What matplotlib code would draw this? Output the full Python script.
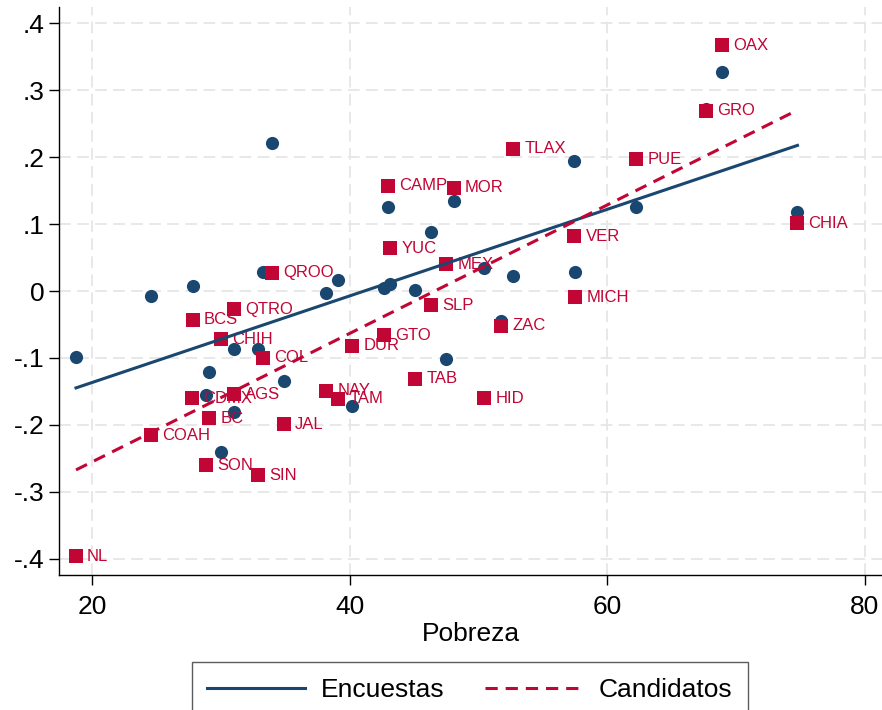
import numpy as np
import matplotlib
matplotlib.use("Agg")
import matplotlib.pyplot as plt
from matplotlib.ticker import FuncFormatter

plt.rcParams['font.family'] = ['Liberation Sans', 'DejaVu Sans']

# state, pobreza, candidatos, encuestas
estados = ["NL", "COAH", "CDMX", "BCS", "SON", "BC", "CHIH", "QTRO", "AGS", "SIN",
           "COL", "QROO", "JAL", "NAY", "TAM", "DUR", "GTO", "CAMP", "YUC", "TAB",
           "SLP", "MEX", "MOR", "HID", "ZAC", "TLAX", "VER", "MICH", "PUE", "GRO",
           "OAX", "CHIA"]
pobreza = [18.76, 24.58, 27.77, 27.84, 28.85, 29.09, 30.02, 31.0, 31.0, 32.9,
           33.28, 33.98, 34.91, 38.17, 39.1, 40.19, 42.68, 43.0, 43.15, 45.09,
           46.33, 47.5, 48.1, 50.45, 51.77, 52.7, 57.44, 57.5, 62.25, 67.69,
           68.93, 74.76]
candidatos = [-0.396, -0.215, -0.160, -0.043, -0.260, -0.190, -0.072, -0.027, -0.154, -0.275,
              -0.100, 0.027, -0.199, -0.149, -0.161, -0.082, -0.066, 0.157, 0.064, -0.131,
              -0.021, 0.040, 0.154, -0.160, -0.052, 0.212, 0.082, -0.009, 0.197, 0.269,
              0.367, 0.101]
encuestas = [-0.099, -0.007, -0.043, 0.007, -0.155, -0.121, -0.240, -0.087, -0.181, -0.086,
             0.029, 0.221, -0.134, -0.003, 0.017, -0.172, 0.004, 0.126, 0.011, 0.001,
             0.088, -0.101, 0.135, 0.034, -0.045, 0.023, 0.194, 0.028, 0.126, 0.272,
             0.327, 0.118]

blue = "#1a476f"
red = "#c10534"

x = np.array(pobreza)
yc = np.array(candidatos)
ye = np.array(encuestas)

fig = plt.figure(figsize=(8.82, 7.1), dpi=100)
ax = fig.add_axes([59/882, 135/710, 1 - 59/882, 568/710])

ax.scatter(x, ye, s=90, color=blue, marker='o', linewidths=0, zorder=3)
ax.scatter(x, yc, s=95, color=red, marker='s', linewidths=0, zorder=4)
for xi, yi, lab in zip(x, yc, estados):
    ax.annotate(lab, (xi, yi), xytext=(8, 0), textcoords='offset points',
                va='center', ha='left', color=red, fontsize=12, zorder=5)

# linear fits
xs = np.array([x.min(), x.max()])
be = np.polyfit(x, ye, 1)
bc = np.polyfit(x, yc, 1)
ax.plot(xs, np.polyval(be, xs), color=blue, lw=2.2, zorder=6, label="Encuestas")
ax.plot(xs, np.polyval(bc, xs), color=red, lw=2.2, ls=(0, (4, 2.6)), zorder=6,
        label="Candidatos")

ax.set_xlim(17.44, 81.32)
ax.set_ylim(-0.4239, 0.4239)
ax.set_xticks([20, 40, 60, 80])
ax.set_yticks(np.arange(-0.4, 0.41, 0.1))
ax.yaxis.set_major_formatter(FuncFormatter(
    lambda v, p: "0" if abs(v) < 1e-9 else ("%.1f" % v).replace("0.", ".")))
ax.tick_params(labelsize=19, length=7.5, width=1, direction='out', pad=3)
ax.tick_params(axis='x', pad=7)
ax.grid(True, color='#e6e6e6', lw=1.3, ls=(0, (6.5, 3.5)))
ax.set_axisbelow(True)
for s in ['top', 'right']:
    ax.spines[s].set_visible(False)
for s in ['left', 'bottom']:
    ax.spines[s].set_linewidth(1)
ax.set_xlabel("Pobreza", fontsize=19, labelpad=2)

fig.legend(loc='upper center', bbox_to_anchor=(470/882, 48/710), ncol=2,
           fontsize=19, frameon=True, fancybox=False, edgecolor='#333333',
           handlelength=3.7, columnspacing=1.55, borderpad=0.6, handletextpad=0.6,
           borderaxespad=0)

fig.savefig("out.png", dpi=100)
